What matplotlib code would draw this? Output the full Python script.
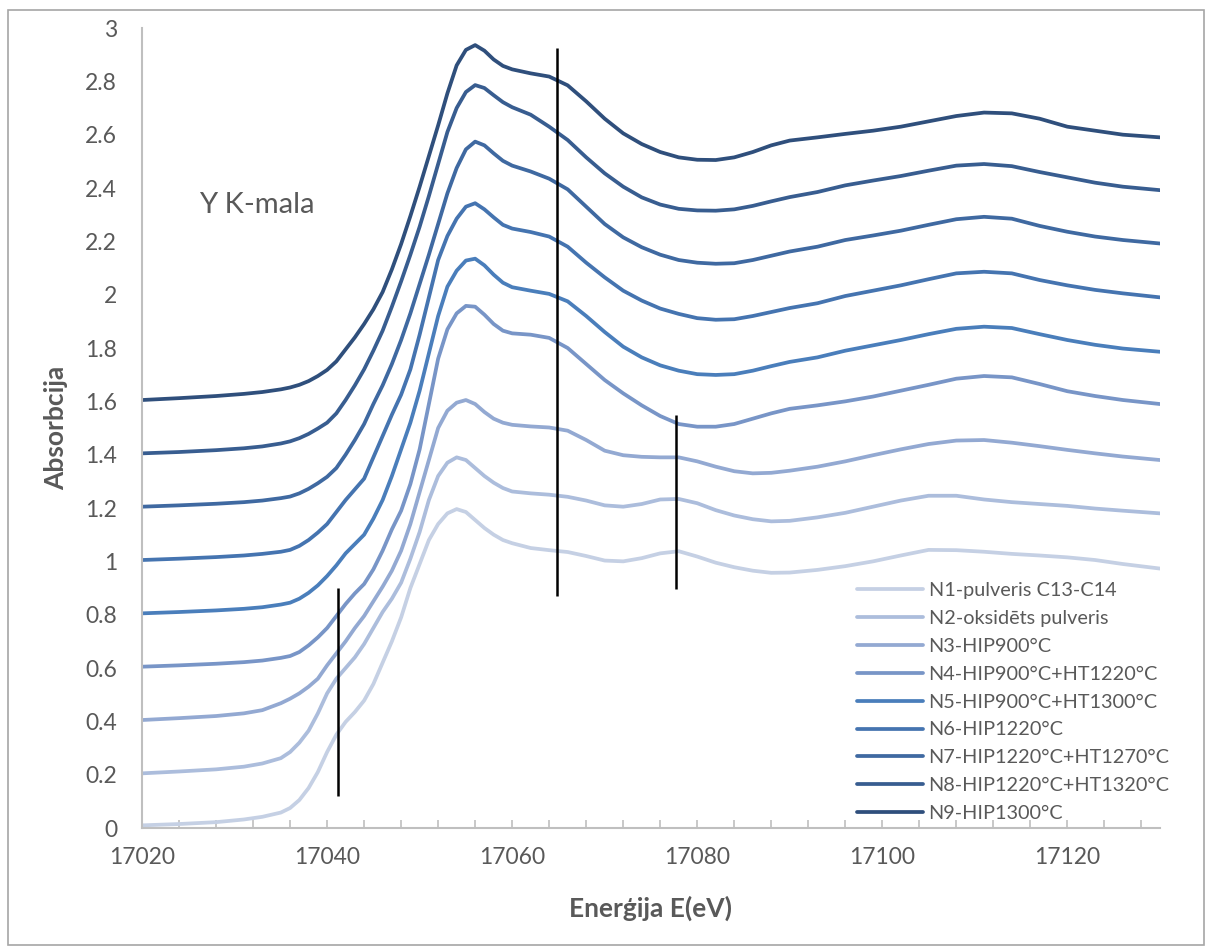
import matplotlib
matplotlib.use("Agg")
import matplotlib.pyplot as plt
from matplotlib.patches import Rectangle
from matplotlib.ticker import MultipleLocator, FuncFormatter

plt.rcParams['font.family'] = ['Lato', 'DejaVu Sans']

# energy grid (eV)
energy = [17020, 17024, 17028, 17031, 17033,
          17035, 17036, 17037, 17038, 17039, 17040, 17041, 17042, 17043, 17044,
          17045, 17046, 17047, 17048, 17049, 17050, 17051, 17052, 17053, 17054,
          17055, 17056, 17057, 17058, 17059, 17060,
          17062, 17064, 17066, 17068, 17070, 17072, 17074, 17076, 17078, 17080,
          17082, 17084, 17086, 17088, 17090,
          17093, 17096, 17099, 17102, 17105, 17108, 17111, 17114, 17117, 17120,
          17123, 17126, 17130]

n1 = [0.010, 0.015, 0.022, 0.032, 0.042,
      0.058, 0.075, 0.105, 0.150, 0.210, 0.285, 0.350, 0.398, 0.435, 0.478,
      0.540, 0.620, 0.700, 0.790, 0.900, 0.990, 1.080, 1.140, 1.180, 1.196,
      1.185, 1.155, 1.125, 1.100, 1.080, 1.068,
      1.050, 1.042, 1.035, 1.020, 1.003, 1.000, 1.012, 1.030, 1.038, 1.018,
      0.995, 0.978, 0.965, 0.957, 0.958,
      0.968, 0.982, 1.000, 1.022, 1.043, 1.042, 1.036, 1.028, 1.022, 1.015,
      1.005, 0.990, 0.973]
n2 = [0.205, 0.212, 0.220, 0.230, 0.242,
      0.262, 0.285, 0.320, 0.365, 0.430, 0.505, 0.560, 0.600, 0.640, 0.690,
      0.750, 0.810, 0.860, 0.920, 1.010, 1.110, 1.230, 1.320, 1.370, 1.390,
      1.380, 1.350, 1.320, 1.295, 1.275, 1.262,
      1.255, 1.250, 1.242, 1.228, 1.210, 1.205, 1.215, 1.232, 1.234, 1.218,
      1.192, 1.172, 1.158, 1.150, 1.152,
      1.165, 1.182, 1.205, 1.228, 1.246, 1.246, 1.232, 1.222, 1.215, 1.208,
      1.198, 1.190, 1.180]
n3 = [0.405, 0.412, 0.420, 0.430, 0.442,
      0.468, 0.485, 0.505, 0.530, 0.560, 0.610, 0.655, 0.700, 0.750, 0.795,
      0.850, 0.905, 0.965, 1.040, 1.140, 1.260, 1.380, 1.500, 1.565, 1.595,
      1.605, 1.590, 1.560, 1.535, 1.520, 1.512,
      1.506, 1.502, 1.490, 1.455, 1.415, 1.398, 1.392, 1.390, 1.390, 1.375,
      1.355, 1.338, 1.330, 1.332, 1.340,
      1.355, 1.375, 1.398, 1.420, 1.440, 1.453, 1.455, 1.445, 1.432, 1.418,
      1.405, 1.393, 1.380]
n4 = [0.605, 0.610, 0.616, 0.622, 0.628,
      0.638, 0.645, 0.660, 0.685, 0.715, 0.750, 0.795, 0.840, 0.880, 0.915,
      0.970, 1.040, 1.120, 1.190, 1.290, 1.420, 1.590, 1.760, 1.870, 1.930,
      1.958, 1.955, 1.925, 1.890, 1.865, 1.855,
      1.850, 1.838, 1.800, 1.740, 1.680, 1.630, 1.585, 1.545, 1.515, 1.505,
      1.505, 1.515, 1.535, 1.555, 1.572,
      1.585, 1.600, 1.618, 1.640, 1.662, 1.685, 1.695, 1.690, 1.665, 1.638,
      1.620, 1.605, 1.590]
n5 = [0.805, 0.810, 0.816, 0.822, 0.828,
      0.838, 0.845, 0.860, 0.882, 0.910, 0.945, 0.985, 1.030, 1.065, 1.100,
      1.160, 1.230, 1.320, 1.420, 1.520, 1.640, 1.780, 1.920, 2.030, 2.090,
      2.128, 2.135, 2.110, 2.075, 2.045, 2.028,
      2.015, 2.003, 1.975, 1.920, 1.860, 1.805, 1.765, 1.735, 1.715, 1.702,
      1.699, 1.702, 1.715, 1.732, 1.748,
      1.765, 1.790, 1.810, 1.830, 1.852, 1.872, 1.880, 1.875, 1.852, 1.830,
      1.812, 1.798, 1.786]
n6 = [1.005, 1.010, 1.016, 1.022, 1.028,
      1.036, 1.043, 1.058, 1.080, 1.108, 1.140, 1.185, 1.230, 1.270, 1.310,
      1.390, 1.470, 1.550, 1.625, 1.720, 1.850, 1.990, 2.130, 2.220, 2.285,
      2.330, 2.343, 2.320, 2.290, 2.262, 2.248,
      2.235, 2.218, 2.180, 2.120, 2.065, 2.015, 1.978, 1.948, 1.928, 1.912,
      1.906, 1.908, 1.920, 1.935, 1.950,
      1.968, 1.995, 2.015, 2.035, 2.058, 2.080, 2.086, 2.080, 2.055, 2.035,
      2.018, 2.005, 1.990]
n7 = [1.205, 1.210, 1.216, 1.222, 1.228,
      1.237, 1.243, 1.255, 1.272, 1.293, 1.317, 1.350, 1.400, 1.455, 1.515,
      1.590, 1.660, 1.740, 1.830, 1.930, 2.040, 2.150, 2.265, 2.380, 2.475,
      2.545, 2.574, 2.560, 2.530, 2.502, 2.484,
      2.462, 2.435, 2.395, 2.330, 2.265, 2.215, 2.178, 2.150, 2.130, 2.120,
      2.116, 2.118, 2.130, 2.146, 2.162,
      2.180, 2.205, 2.222, 2.240, 2.262, 2.283, 2.292, 2.285, 2.258, 2.236,
      2.218, 2.205, 2.192]
n8 = [1.405, 1.410, 1.417, 1.424, 1.431,
      1.442, 1.450, 1.462, 1.478, 1.498, 1.520, 1.555, 1.605, 1.660, 1.720,
      1.790, 1.865, 1.955, 2.050, 2.150, 2.255, 2.370, 2.490, 2.610, 2.700,
      2.760, 2.786, 2.775, 2.748, 2.722, 2.703,
      2.675, 2.630, 2.580, 2.515, 2.455, 2.405, 2.365, 2.338, 2.322, 2.316,
      2.315, 2.320, 2.333, 2.350, 2.366,
      2.385, 2.410, 2.428, 2.445, 2.465, 2.484, 2.490, 2.482, 2.460, 2.440,
      2.420, 2.405, 2.392]
n9 = [1.605, 1.612, 1.620, 1.628, 1.635,
      1.645, 1.652, 1.662, 1.676, 1.695, 1.718, 1.750, 1.795, 1.840, 1.890,
      1.945, 2.010, 2.095, 2.190, 2.295, 2.405, 2.520, 2.635, 2.755, 2.860,
      2.918, 2.936, 2.915, 2.882, 2.858, 2.845,
      2.830, 2.818, 2.785, 2.725, 2.660, 2.605, 2.565, 2.535, 2.515, 2.506,
      2.505, 2.515, 2.535, 2.560, 2.578,
      2.590, 2.603, 2.615, 2.630, 2.650, 2.670, 2.683, 2.680, 2.660, 2.630,
      2.615, 2.600, 2.590]

series = [n1, n2, n3, n4, n5, n6, n7, n8, n9]
labels = ['N1-pulveris C13-C14', 'N2-oksidēts pulveris', 'N3-HIP900°C',
          'N4-HIP900°C+HT1220°C', 'N5-HIP900°C+HT1300°C', 'N6-HIP1220°C',
          'N7-HIP1220°C+HT1270°C', 'N8-HIP1220°C+HT1320°C', 'N9-HIP1300°C']
colors = ['#c5d0e4', '#acbddc', '#93a9d2', '#7895c7', '#4a7ebb',
          '#4574b0', '#3f69a1', '#385d90', '#2f4f7c']

# black marker lines
mark_x = [17041.2, 17064.8, 17077.7]
mark_lo = [0.12, 0.87, 0.895]
mark_hi = [0.90, 2.925, 1.55]

grey = '#595959'

fig = plt.figure(figsize=(12.12, 9.5), dpi=100)
ax = fig.add_axes([0.1172, 0.1284, 0.8398, 0.8421])

for y, lab, c in zip(series, labels, colors):
    ax.plot(energy, y, color=c, lw=2.7, label=lab, solid_capstyle='round',
            solid_joinstyle='round')

ax.vlines(mark_x, mark_lo, mark_hi, colors='black', lw=1.8)

ax.set_xlim(17020, 17130)
ax.set_ylim(0, 3)
ax.xaxis.set_major_locator(MultipleLocator(20))
ax.xaxis.set_minor_locator(MultipleLocator(4))
ax.yaxis.set_major_locator(MultipleLocator(0.2))
ax.yaxis.set_major_formatter(FuncFormatter(lambda v, p: ('%.1f' % v).rstrip('0').rstrip('.')))

for s in ['top', 'right']:
    ax.spines[s].set_visible(False)
for s in ['left', 'bottom']:
    ax.spines[s].set_color('#bfbfbf')
    ax.spines[s].set_linewidth(1.5)

ax.tick_params(axis='x', which='both', direction='in', length=6, width=1.2,
               color='#bfbfbf', labelsize=16.5, labelcolor=grey, pad=14)
ax.tick_params(axis='y', length=0, labelsize=16.5, labelcolor=grey, pad=18)

ax.set_xlabel('Enerģija E(eV)', fontsize=19, fontweight='bold', color=grey)
ax.set_ylabel('Absorbcija', fontsize=19, fontweight='bold', color=grey)
ax.xaxis.set_label_coords(0.5, -0.084)
ax.yaxis.set_label_coords(-0.073, 0.5)

ax.text(17026.2, 2.336, 'Y K-mala', fontsize=21, color=grey, va='center', ha='left')

fig.legend(loc='center left', bbox_to_anchor=(0.7071, 0.261), frameon=False,
           fontsize=14.3, labelcolor=grey, handlelength=3.3, handletextpad=0.3,
           labelspacing=0.55, borderpad=0, borderaxespad=0)

fig.patches.append(Rectangle((0.007, 0.005), 0.986, 0.985, transform=fig.transFigure,
                             fill=False, edgecolor='#a6a6a6', lw=1.2))

fig.savefig('out.png', dpi=100)
